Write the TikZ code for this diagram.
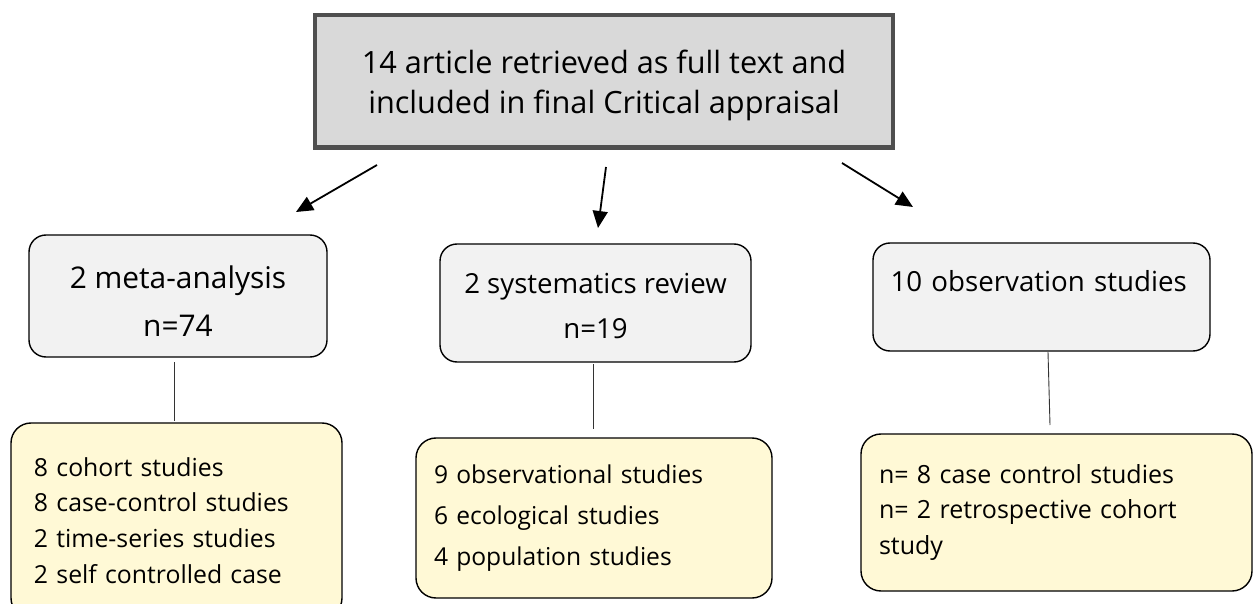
\documentclass[tikz,border=0pt]{standalone}
\usepackage{fontspec}
\setmainfont{Open Sans}
\usetikzlibrary{arrows.meta}
\definecolor{topfill}{HTML}{D9D9D9}
\definecolor{topdraw}{HTML}{4F4F4F}
\definecolor{grayfill}{HTML}{F2F2F2}
\definecolor{yelfill}{HTML}{FFF9D6}
\tikzset{
  x=1bp, y=-1bp,
  topbox/.style={draw=topdraw, fill=topfill, line width=4.5bp, rectangle, outer sep=0pt, inner sep=0pt,
    align=center, font=\fontsize{30.8}{40}\selectfont},
  graybox/.style={draw=black, fill=grayfill, line width=1.4bp, rounded corners=17bp, outer sep=0pt, inner sep=0pt,
    align=center},
  yelbox/.style={draw=black, fill=yelfill, line width=1.4bp, rounded corners=20bp, outer sep=0pt, inner sep=0pt},
  arr/.style={line width=1.8bp, -{Triangle[length=17bp,width=15bp]}},
  conn/.style={line width=0.9bp, draw=black!80},
}
\begin{document}
\begin{tikzpicture}
\useasboundingbox (0,0) rectangle (1254,604);
% top box
\node[topbox, minimum width=577.5bp, minimum height=132.5bp] (top) at (604,81.5)
  {\rule{0pt}{31.5bp}14 article retrieved as full text and\\included in final Critical appraisal};
% gray boxes
\node[graybox, minimum width=298bp, minimum height=122bp, font=\fontsize{30}{49}\selectfont] (g1) at (178,296)
  {\rule{0pt}{33bp}2 meta-analysis\\n=74};
\node[graybox, minimum width=311bp, minimum height=118bp, font=\fontsize{27.7}{45}\selectfont] (g2) at (595.5,303)
  {\rule{0pt}{26bp}2 systematics review\\n=19};
\node[graybox, minimum width=337bp, minimum height=108bp, text width=302bp, align=left, font=\fontsize{27.8}{46}\selectfont] (g3) at (1041.5,297)
  {\rule{0pt}{35bp}10 observation studies\\\mbox{}};
% yellow boxes
\node[yelbox, minimum width=331bp, minimum height=195bp, text width=285bp, align=left,
  font=\fontsize{24.9}{36}\selectfont] (y1) at (176.5,520.5)
  {8 cohort studies\\8 case-control studies\\2 time-series studies\\2 self controlled case};
\node[yelbox, minimum width=356bp, minimum height=160bp, text width=320bp, align=left,
  font=\fontsize{24.7}{41}\selectfont] (y2) at (594,518)
  {9 observational studies\\6 ecological studies\\4 population studies};
\node[yelbox, minimum width=391bp, minimum height=157bp, text width=355bp, align=left,
  font=\fontsize{25.1}{36}\selectfont] (y3) at (1056.5,512.5)
  {n= 8 case control studies\\n= 2 retrospective cohort\\study};
% arrows
\coordinate (a1s) at (377,165); \coordinate (a1e) at (296,212);
\coordinate (a2s) at (606,167); \coordinate (a2e) at (598,228);
\coordinate (a3s) at (842,163); \coordinate (a3e) at (913,207);
\draw[arr] (a1s) -- (a1e);
\draw[arr] (a2s) -- (a2e);
\draw[arr] (a3s) -- (a3e);
% vertical connectors
\coordinate (c1s) at (174,362); \coordinate (c1e) at (174,421);
\coordinate (c2s) at (593,364); \coordinate (c2e) at (593,429);
\coordinate (c3s) at (1048,352); \coordinate (c3e) at (1050,425);
\draw[conn] (c1s) -- (c1e);
\draw[conn] (c2s) -- (c2e);
\draw[conn] (c3s) -- (c3e);
\end{tikzpicture}
\end{document}
